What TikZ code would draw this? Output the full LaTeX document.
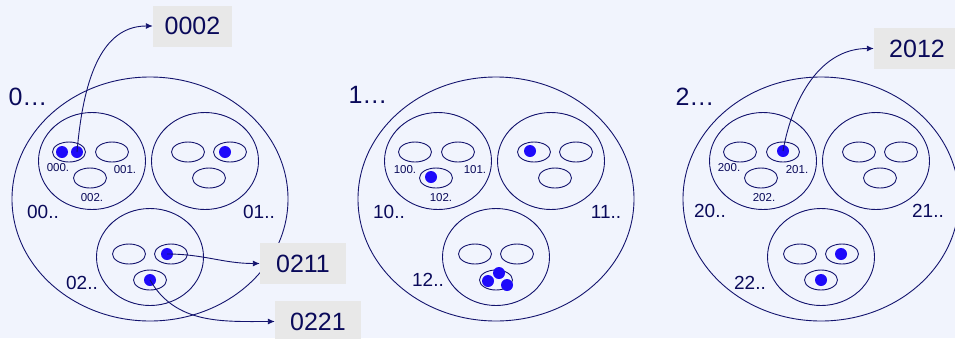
\documentclass[tikz,border=0pt]{standalone}
\usepackage{fontspec}
\setmainfont{Liberation Sans}
\setsansfont{Liberation Sans}
\usepackage{tikz}
\usetikzlibrary{arrows.meta, shapes.geometric}

\definecolor{fond}{RGB}{241,244,253}
\definecolor{trait}{RGB}{20,20,110}
\definecolor{encre}{RGB}{10,10,90}
\definecolor{bleu}{RGB}{30,10,250}
\definecolor{etiq}{RGB}{232,232,232}

\begin{document}
\begin{tikzpicture}[
  x=1pt, y=-1pt,
  font=\sffamily,
  grand/.style={
    ellipse, draw=trait, line width=0.9pt, inner sep=0pt,
    minimum width=276pt, minimum height=244pt
  },
  sous/.style={
    ellipse, draw=trait, line width=0.9pt, inner sep=0pt,
    minimum width=107pt, minimum height=97pt
  },
  case/.style={
    ellipse, draw=trait, line width=0.9pt, inner sep=0pt,
    minimum width=33pt, minimum height=20pt
  },
  bille/.style={circle, fill=bleu, inner sep=0pt, minimum size=12pt},
  titre/.style={text=encre, inner sep=0pt, font=\sffamily\fontsize{25}{25}\selectfont},
  nom/.style={text=encre, inner sep=0pt, font=\sffamily\fontsize{19}{19}\selectfont},
  num/.style={text=encre, inner sep=0pt, font=\sffamily\fontsize{11.5}{11.5}\selectfont},
  boite/.style={
    fill=etiq, inner sep=0pt, minimum width=86pt, minimum height=41pt,
    text=encre, font=\sffamily\fontsize{25}{25}\selectfont
  },
  fleche/.style={
    -{Latex[length=7pt, width=6pt]},
    line width=0.9pt, draw=trait
  }
]
  \fill[fond] (0,0) rectangle (955,338);
  \useasboundingbox (0,0) rectangle (955,338);

  % groupe 0
  \node[grand] (g0) at (150,199) {};
  \node[sous] (g00) at (92,161) {};
  \node[sous] (g01) at (205,161) {};
  \node[sous] (g02) at (150,257) {};
  \node[case] (c000) at (69,152) {};
  \node[case] (c001) at (112,152) {};
  \node[case] (c002) at (90,178) {};
  \node[case] (c010) at (188,152) {};
  \node[case] (c011) at (230,152) {};
  \node[case] (c012) at (209,178) {};
  \node[case] (c020) at (129,254) {};
  \node[case] (c021) at (171,254) {};
  \node[case] (c022) at (150,280) {};
  \node[bille] (d0001) at (62,152) {};
  \node[bille] (d0002) at (77,152) {};
  \node[bille] (d0111) at (225,152) {};
  \node[bille] (d0211) at (167,254) {};
  \node[bille] (d0221) at (150,280) {};

  \node[titre] (t0) at (28,97) {0…};
  \node[nom] (n00) at (43,212) {00..};
  \node[nom] (n01) at (259,212) {01..};
  \node[nom] (n02) at (82,283) {02..};
  \node[num] (k000) at (58,168) {000.};
  \node[num] (k001) at (125,170) {001.};
  \node[num] (k002) at (92,198) {002.};

  % groupe 1
  \node[grand] (g1) at (496,199) {};
  \node[sous] (g10) at (438,161) {};
  \node[sous] (g11) at (551,161) {};
  \node[sous] (g12) at (496,257) {};
  \node[case] (c100) at (415,152) {};
  \node[case] (c101) at (458,152) {};
  \node[case] (c102) at (436,178) {};
  \node[case] (c110) at (534,152) {};
  \node[case] (c111) at (576,152) {};
  \node[case] (c112) at (555,178) {};
  \node[case] (c120) at (475,254) {};
  \node[case] (c121) at (517,254) {};
  \node[case] (c122) at (496,280) {};
  \node[bille] (d1021) at (431,177) {};
  \node[bille] (d1101) at (530,151) {};
  \node[bille] (d1221) at (488,281) {};
  \node[bille] (d1222) at (499,273) {};
  \node[bille] (d1223) at (507,285) {};

  \node[titre] (t1) at (368,95) {1…};
  \node[nom] (n10) at (389,212) {10..};
  \node[nom] (n11) at (606,212) {11..};
  \node[nom] (n12) at (428,280) {12..};
  \node[num] (k100) at (405,170) {100.};
  \node[num] (k101) at (475,170) {101.};
  \node[num] (k102) at (441,198) {102.};

  % groupe 2
  \node[grand] (g2) at (821,199) {};
  \node[sous] (g20) at (763,161) {};
  \node[sous] (g21) at (876,161) {};
  \node[sous] (g22) at (821,257) {};
  \node[case] (c200) at (740,152) {};
  \node[case] (c201) at (783,152) {};
  \node[case] (c202) at (761,178) {};
  \node[case] (c210) at (859,152) {};
  \node[case] (c211) at (901,152) {};
  \node[case] (c212) at (880,178) {};
  \node[case] (c220) at (800,254) {};
  \node[case] (c221) at (842,254) {};
  \node[case] (c222) at (821,280) {};
  \node[bille] (d2012) at (783,151) {};
  \node[bille] (d2211) at (841,254) {};
  \node[bille] (d2221) at (821,280) {};

  \node[titre] (t2) at (695,97) {2…};
  \node[nom] (n20) at (710,211) {20..};
  \node[nom] (n21) at (928,211) {21..};
  \node[nom] (n22) at (750,283) {22..};
  \node[num] (k200) at (729,168) {200.};
  \node[num] (k201) at (797,170) {201.};
  \node[num] (k202) at (764,198) {202.};

  % etiquettes
  \node[boite, minimum width=79pt] (b0002) at (192.5,26) {0002};
  \node[boite] (b0211) at (303,263.5) {0211};
  \node[boite] (b0221) at (318,321.5) {0221};
  \node[boite] (b2012) at (917,48.5) {2012};

  \draw[fleche] (d0002.center) to[out=85, in=180] (b0002);
  \draw[fleche] (d0211.center) to[out=0, in=180] (b0211);
  \draw[fleche] (d0221.center) to[out=-60, in=180] (b0221);
  \draw[fleche] (d2012.center) to[out=80, in=180] (b2012);
\end{tikzpicture}
\end{document}
